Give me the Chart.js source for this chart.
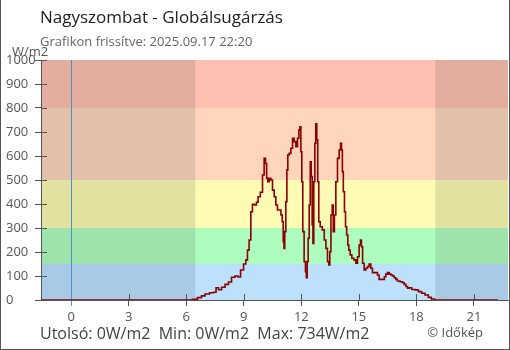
<!DOCTYPE html>
<html>
<head>
<meta charset="utf-8">
<script src="https://cdn.jsdelivr.net/npm/chart.js@4.4.1/dist/chart.umd.min.js"></script>
<style>
    html, body { margin: 0; padding: 0; background: #fff; }
    #wrap { position: relative; width: 510px; height: 350px; font-family: "Open Sans", sans-serif; }
    #wrap canvas { position: absolute; left: 0; top: 0; }
    .frame { position: absolute; left: 0; top: 0; width: 510px; height: 350px; box-sizing: border-box;
             border: 1px solid #555; border-top: none; pointer-events: none; }
    .title { position: absolute; left: 40px; top: 5px; font-size: 17px; color: #222; white-space: nowrap; }
    .subtitle { position: absolute; left: 40px; top: 32px; font-size: 13px; color: #666; white-space: nowrap; }
    .unit { position: absolute; left: 12px; top: 42px; font-size: 13px; color: #555; }
    .footer { position: absolute; left: 40px; top: 322px; font-size: 16px; color: #444; white-space: pre; }
    .copy { position: absolute; right: 27px; top: 323px; font-size: 13px; color: #555; white-space: nowrap; }
</style>
</head>
<body>
<div id="wrap">
    <canvas id="myChart" width="510" height="350"></canvas>
    <div class="title">Nagyszombat - Globálsugárzás</div>
    <div class="subtitle">Grafikon frissítve: 2025.09.17 22:20</div>
    <div class="unit">W/m2</div>
    <div class="footer">Utolsó: 0W/m2  Min: 0W/m2  Max: 734W/m2</div>
    <div class="copy">© Időkép</div>
    <div class="frame"></div>
</div>
<script>
    // measurement times (hours of 2025.09.17, negative = previous evening)
    const hours = [-1.58, 6.19, 6.45, 6.71, 6.87, 7.08, 7.34, 7.50, 7.60, 7.76, 7.92, 8.12, 8.28, 8.44, 8.64, 8.75,
        8.91, 9.06, 9.15, 9.23, 9.32, 9.41, 9.49, 9.62, 9.70, 9.79, 9.93, 10.02, 10.10, 10.16, 10.22, 10.28, 10.37,
        10.45, 10.54, 10.63, 10.71, 10.80, 10.89, 10.98, 11.03, 11.08, 11.11, 11.16, 11.22, 11.27, 11.32, 11.41,
        11.50, 11.58, 11.67, 11.76, 11.84, 11.90, 11.95, 12.00, 12.05, 12.10, 12.19, 12.24, 12.28, 12.33, 12.38,
        12.44, 12.49, 12.54, 12.59, 12.62, 12.68, 12.73, 12.78, 12.83, 12.88, 12.94, 13.03, 13.15, 13.24, 13.32,
        13.41, 13.46, 13.51, 13.58, 13.64, 13.69, 13.76, 13.84, 13.93, 14.02, 14.07, 14.12, 14.16, 14.22, 14.28,
        14.33, 14.40, 14.45, 14.50, 14.59, 14.68, 14.80, 14.89, 14.97, 15.06, 15.11, 15.16, 15.23, 15.32, 15.41,
        15.49, 15.58, 15.67, 15.75, 15.93, 16.01, 16.10, 16.30, 16.36, 16.45, 16.54, 16.63, 16.71, 16.80, 16.89,
        16.97, 17.06, 17.24, 17.32, 17.41, 17.50, 17.58, 17.67, 17.85, 18.02, 18.19, 18.36, 18.54, 18.71, 18.85,
        19.06, 22.25];
    // global radiation, W/m2
    const radiation = [0, 0, 3, 10, 17, 25, 30, 32, 51, 43, 53, 65, 75, 95, 100, 96,
        125, 150, 167, 208, 250, 368, 399, 396, 407, 430, 449, 521, 590, 569, 507, 493, 507,
        500, 458, 430, 396, 375, 375, 354, 326, 243, 215, 285, 410, 542, 604, 611,
        632, 674, 660, 639, 674, 708, 722, 618, 493, 285, 160, 118, 93, 160, 257,
        396, 576, 514, 313, 236, 493, 653, 734, 667, 493, 326, 305, 292, 250, 215,
        160, 146, 201, 354, 396, 285, 354, 493, 590, 625, 653, 625, 535, 451, 368,
        305, 271, 229, 208, 188, 174, 167, 153, 180, 229, 250, 222, 153, 125, 132,
        139, 150, 132, 114, 114, 104, 86, 86, 97, 108, 114, 108, 104, 100, 93,
        86, 79, 76, 72, 65, 56, 49, 51, 44, 42, 35, 28, 21, 11, 4,
        0, 0];
    const xTicks = [0, 3, 6, 9, 12, 15, 18, 21];
    const bandLimits = [0, 150, 300, 500, 800, 1000];
    const dayColors = ['#bde0fd', '#adfdbf', '#fffbb5', '#ffd5bb', '#ffbfb1'];
    const nightColors = ['#a8cae5', '#9de3ab', '#e3e1a0', '#e2c0aa', '#e3ada0'];
    const nightRanges = [[-1.58, 6.47], [18.99, 22.78]];

    const points = hours.map((h, i) => ({ x: h, y: radiation[i] }));

    // background bands, night shading, midnight marker and inner ticks
    const bandPlugin = {
        id: 'bands',
        beforeDraw(chart) {
            const { ctx, chartArea: a, scales: { x, y } } = chart;
            ctx.save();
            for (let i = 0; i < bandLimits.length - 1; i++) {
                const top = y.getPixelForValue(bandLimits[i + 1]);
                const bot = y.getPixelForValue(bandLimits[i]);
                ctx.fillStyle = dayColors[i];
                ctx.fillRect(a.left, top, a.right - a.left, bot - top);
                nightRanges.forEach(r => {
                    const x0 = Math.max(x.getPixelForValue(r[0]), a.left);
                    const x1 = Math.min(x.getPixelForValue(r[1]), a.right);
                    ctx.fillStyle = nightColors[i];
                    ctx.fillRect(x0, top, x1 - x0, bot - top);
                });
            }
            ctx.strokeStyle = '#555';
            ctx.lineWidth = 1;
            ctx.beginPath();
            for (let v = 0; v <= 1000; v += 100) {
                const py = Math.round(y.getPixelForValue(v)) + 0.5;
                ctx.moveTo(a.left, py);
                ctx.lineTo(a.left + 6, py);
            }
            xTicks.forEach(t => {
                if (t === 0) return;
                const px = Math.round(x.getPixelForValue(t)) + 0.5;
                ctx.moveTo(px, a.bottom);
                ctx.lineTo(px, a.bottom - 6);
            });
            ctx.stroke();
            const mx = Math.round(x.getPixelForValue(0)) + 0.5;
            ctx.strokeStyle = '#4a90d0';
            ctx.beginPath();
            ctx.moveTo(mx, a.top);
            ctx.lineTo(mx, a.bottom);
            ctx.stroke();
            ctx.restore();
        }
    };

    const ctx = document.getElementById('myChart').getContext('2d');
    const myChart = new Chart(ctx, {
        type: 'line',
        data: {
            datasets: [{
                data: points,
                borderColor: '#8b0000',
                borderWidth: 1.6,
                pointRadius: 0,
                stepped: 'middle',
                fill: false
            }]
        },
        options: {
            responsive: false,
            animation: false,
            events: [],
            layout: { padding: { top: 60, left: 6, right: 2, bottom: 0 } },
            plugins: { legend: { display: false }, tooltip: { enabled: false } },
            scales: {
                x: {
                    type: 'linear',
                    min: -1.58,
                    max: 22.78,
                    afterBuildTicks: scale => { scale.ticks = xTicks.map(v => ({ value: v })); },
                    afterFit: scale => { scale.height = 50; },
                    grid: { drawOnChartArea: false, tickLength: 6, color: ctx => ctx.tick && ctx.tick.value === 0 ? '#4a90d0' : '#555' },
                    border: { color: '#555', width: 1 },
                    ticks: { color: '#555', font: { family: 'Open Sans', size: 13 }, padding: 3, maxRotation: 0 }
                },
                y: {
                    min: 0,
                    max: 1000,
                    afterFit: scale => { scale.width = 35; },
                    grid: { drawOnChartArea: false, tickLength: 6, color: '#555' },
                    border: { color: '#555', width: 1 },
                    ticks: { stepSize: 100, color: '#555', crossAlign: 'far', font: { family: 'Open Sans', size: 13 },
                             callback: v => String(v) }
                }
            }
        },
        plugins: [bandPlugin]
    });
</script>
</body>
</html>
